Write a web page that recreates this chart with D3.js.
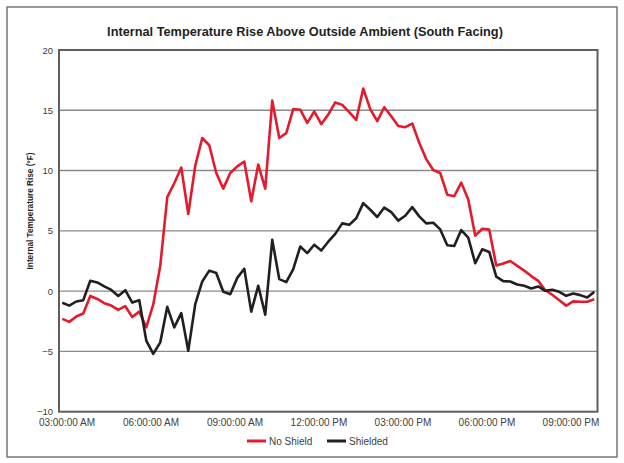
<!DOCTYPE html>
<html>
<head>
<meta charset="utf-8">
<script src="https://cdn.jsdelivr.net/npm/d3@7"></script>
<style>
  html, body { margin: 0; padding: 0; background: #fff; }
  svg { display: block; }
  text { font-family: "Liberation Sans", Arial, sans-serif; }
</style>
</head>
<body>
<svg id="chart" width="624" height="463"></svg>
<script>
// ---- data ----
const times = [
  "02:51",
  "03:06","03:21","03:36","03:51",
  "04:06","04:21","04:36","04:51",
  "05:06","05:21","05:36","05:51",
  "06:06","06:21","06:36","06:51",
  "07:06","07:21","07:36","07:51",
  "08:06","08:21","08:36","08:51",
  "09:06","09:21","09:36","09:51",
  "10:06","10:21","10:36","10:51",
  "11:06","11:21","11:36","11:51",
  "12:06","12:21","12:36","12:51",
  "13:06","13:21","13:36","13:51",
  "14:06","14:21","14:36","14:51",
  "15:06","15:21","15:36","15:51",
  "16:06","16:21","16:36","16:51",
  "17:06","17:21","17:36","17:51",
  "18:06","18:21","18:36","18:51",
  "19:06","19:21","19:36","19:51",
  "20:06","20:21","20:36","20:51",
  "21:06","21:21","21:36","21:51"
];
const noShield = [
  -2.3, -2.55, -2.1, -1.85, -0.4, -0.65, -1.0, -1.2, -1.55, -1.25,
  -2.15, -1.7, -3.0, -1.1, 2.1, 7.8, 8.95, 10.25, 6.4, 10.4,
  12.7, 12.1, 9.8, 8.5, 9.8, 10.35, 10.75, 7.45, 10.5, 8.5,
  15.8, 12.7, 13.1, 15.1, 15.05, 13.95, 14.9, 13.85, 14.65, 15.65,
  15.45, 14.85, 14.2, 16.8, 15.1, 14.1, 15.25, 14.5, 13.7, 13.6,
  13.9, 12.3, 10.95, 10.05, 9.8, 8.0, 7.87, 9.0, 7.6, 4.6,
  5.17, 5.1, 2.13, 2.3, 2.5, 2.1, 1.7, 1.25, 0.85, 0.08,
  -0.3, -0.75, -1.2, -0.85, -0.88, -0.88, -0.67
];
const shielded = [
  -0.97, -1.2, -0.86, -0.75, 0.86, 0.72, 0.4, 0.1, -0.4, 0.08,
  -0.95, -0.75, -4.1, -5.2, -4.25, -1.3, -3.0, -1.82, -4.95, -1.08,
  0.8, 1.7, 1.5, -0.05, -0.25, 1.1, 1.85, -1.7, 0.45, -1.95,
  4.25, 1.0, 0.75, 1.83, 3.7, 3.15, 3.85, 3.37, 4.1, 4.75,
  5.62, 5.5, 6.05, 7.3, 6.75, 6.15, 6.93, 6.55, 5.85, 6.25,
  6.97, 6.2, 5.62, 5.67, 5.12, 3.8, 3.75, 5.07, 4.44, 2.31,
  3.47, 3.25, 1.21, 0.83, 0.8, 0.55, 0.44, 0.22, 0.39, 0.03,
  0.11, -0.06, -0.39, -0.19, -0.33, -0.52, -0.06
];
const xTickLabels = ["03:00:00 AM","06:00:00 AM","09:00:00 AM","12:00:00 PM","03:00:00 PM","06:00:00 PM","09:00:00 PM"];
const xTickTimes = ["03:00","06:00","09:00","12:00","15:00","18:00","21:00"];
const yTicks = [-10, -5, 0, 5, 10, 15, 20];
const seriesNames = ["No Shield", "Shielded"];
const seriesColors = ["#E31B2C", "#231F20"];
const title = "Internal Temperature Rise Above Outside Ambient (South Facing)";
const yTitle = "Internal Temperature Rise (\u00B0F)";

// ---- drawing ----
const svg = d3.select("#chart");
const parse = d3.timeParse("%H:%M");
const plot = { left: 59, right: 597.5, top: 50, bottom: 411.7 };

const x = d3.scaleTime()
  .domain([parse("02:44"), parse("21:58")])
  .range([plot.left, plot.right]);
const y = d3.scaleLinear().domain([-10, 20]).range([plot.bottom, plot.top]);

// outer border
svg.append("rect")
  .attr("x", 7).attr("y", 7).attr("width", 610).attr("height", 450)
  .attr("fill", "#fff").attr("stroke", "#767676").attr("stroke-width", 1.5);

// title
const t = svg.append("text")
  .attr("x", 305).attr("y", 36)
  .attr("text-anchor", "middle")
  .attr("font-weight", "bold").attr("font-size", 12.5)
  .attr("fill", "#231F20")
  .text(title);
function fitWidth(sel, target) {
  const w = sel.node().getComputedTextLength();
  const fs = parseFloat(sel.attr("font-size"));
  sel.attr("font-size", (fs * target / w).toFixed(2));
}
fitWidth(t, 396);

// gridlines
svg.append("g")
  .selectAll("line")
  .data(yTicks.filter(v => v > -10 && v < 20))
  .join("line")
  .attr("x1", plot.left).attr("x2", plot.right)
  .attr("y1", d => y(d)).attr("y2", d => y(d))
  .attr("stroke", "#8a8a8a").attr("stroke-width", 1.4);

// y axis labels
const yAxis = d3.axisLeft(y).tickValues(yTicks).tickSize(0).tickPadding(6);
const gy = svg.append("g").attr("transform", `translate(${plot.left},0)`).call(yAxis);
gy.select(".domain").remove();
gy.selectAll("text").attr("font-size", 9.5).attr("fill", "#404040")
  .attr("font-family", "Liberation Sans, Arial, sans-serif");

// x axis labels
const xAxis = d3.axisBottom(x)
  .tickValues(xTickTimes.map(parse))
  .tickSize(0).tickPadding(7)
  .tickFormat((d, i) => xTickLabels[i]);
const gx = svg.append("g").attr("transform", `translate(0,${plot.bottom})`).call(xAxis);
gx.select(".domain").remove();
gx.selectAll("text").attr("font-size", 10).attr("fill", "#404040")
  .attr("font-family", "Liberation Sans, Arial, sans-serif");

// y title
const yt = svg.append("text")
  .attr("transform", "translate(33,211) rotate(-90)")
  .attr("text-anchor", "middle")
  .attr("font-weight", "bold").attr("font-size", 9)
  .attr("fill", "#231F20")
  .text(yTitle);
fitWidth(yt, 117);

// lines
const series = [noShield, shielded];
const line = d3.line()
  .x((d, i) => x(parse(times[i])))
  .y(d => y(d));
series.forEach((vals, si) => {
  svg.append("path")
    .datum(vals)
    .attr("fill", "none")
    .attr("stroke", seriesColors[si])
    .attr("stroke-width", 2.6)
    .attr("stroke-linejoin", "round")
    .attr("d", line);
});

// plot frame
svg.append("rect")
  .attr("x", plot.left).attr("y", plot.top)
  .attr("width", plot.right - plot.left).attr("height", plot.bottom - plot.top)
  .attr("fill", "none").attr("stroke", "#5f5f5f").attr("stroke-width", 2);

// legend
const legendX = [247, 327];
const lg = svg.append("g");
seriesNames.forEach((name, i) => {
  lg.append("line")
    .attr("x1", legendX[i]).attr("x2", legendX[i] + 19)
    .attr("y1", 441).attr("y2", 441)
    .attr("stroke", seriesColors[i]).attr("stroke-width", 3);
  lg.append("text")
    .attr("x", legendX[i] + 22).attr("y", 444.5)
    .attr("font-size", 10).attr("fill", "#404040")
    .text(name);
});
</script>
</body>
</html>
